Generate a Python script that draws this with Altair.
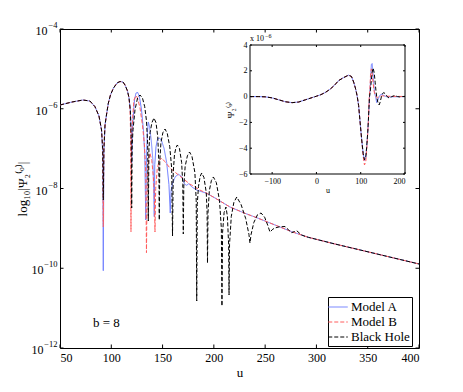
import altair as alt
import pandas as pd

SERIES = ["Model A", "Model B", "Black Hole"]
COLORS = ["#6d7dff", "#ff5c5c", "#000000"]
DASHES = [[1, 0], [4, 2], [4, 2]]

# ---- main panel: log10 |Psi| versus u ----
A_U = [50.0, 61.7, 72.4, 79.2, 84.1, 88.0, 90.5, 91.6, 92.2, 92.8,
       93.9, 95.3, 97.1, 99.2, 102.0, 105.6, 108.5, 111.4, 113.4, 115.8,
       117.3, 118.6, 119.4, 119.9, 120.5, 121.2, 122.6, 124.1, 125.8, 127.5,
       129.5, 131.4, 132.7, 133.6, 134.4, 135.2, 136.1, 137.3, 139.0, 140.6,
       141.9, 142.4, 143.6, 145.2, 147.0, 149.0, 151.5, 154.0, 156.2, 157.5,
       158.3, 160.0, 162.5, 165.5, 168.5, 171.5, 173.5, 175.5, 178.5, 183.3,
       193.0, 201.1, 215.7, 230.3, 243.3, 259.6, 275.9, 292.1, 318.1, 352.2, 375.0, 400.0]
A_LOG = [-5.906, -5.831, -5.781, -5.806, -5.949, -6.182, -6.533, -7.1, -10.061, -7.1,
         -6.408, -6.157, -5.863, -5.655, -5.487, -5.354, -5.317, -5.329, -5.404, -5.555,
         -5.730, -6.05, -6.6, -7.361, -6.6, -6.28, -5.78, -5.605, -5.592, -5.705,
         -6.03, -6.55, -7.2, -8.79, -7.1, -6.6, -6.332, -6.45, -6.8, -7.3,
         -8.707, -7.4, -6.95, -6.75, -6.734, -6.8, -7.0, -7.35, -7.9, -8.614,
         -8.05, -7.85, -7.7, -7.644, -7.70, -7.89, -7.92, -7.88, -7.96, -8.04,
         -8.12, -8.238, -8.464, -8.622, -8.747, -8.915, -9.083, -9.224, -9.392, -9.60, -9.74, -9.893]

B_U = [50.0, 61.7, 72.4, 79.2, 84.1, 88.0, 90.5, 91.6, 92.2, 92.8,
       93.9, 95.3, 97.1, 99.2, 102.0, 105.6, 108.5, 111.4, 113.4, 115.8,
       117.3, 118.3, 118.9, 119.2, 119.6, 120.7, 122.1, 124.1, 125.6, 128.0,
       130.4, 132.3, 133.6, 134.3, 135.0, 136.0, 137.7, 139.5, 141.0, 142.0,
       142.6, 143.3, 144.8, 146.8, 149.1, 152.0, 157.2, 166.9, 176.7, 186.5,
       193.0, 201.1, 215.7, 230.3, 243.3, 259.6, 275.9, 292.1, 318.1, 352.2, 375.0, 400.0]
B_LOG = [-5.906, -5.831, -5.781, -5.806, -5.949, -6.182, -6.533, -7.0, -8.958, -7.0,
         -6.408, -6.157, -5.863, -5.655, -5.487, -5.354, -5.317, -5.329, -5.404, -5.555,
         -5.730, -6.05, -6.7, -9.083, -6.9, -6.28, -5.78, -5.668, -5.73, -5.98,
         -6.41, -6.9, -7.6, -9.61, -7.8, -7.35, -7.11, -7.3, -7.7, -8.2,
         -9.091, -8.0, -7.5, -7.3, -7.235, -7.32, -7.486, -7.69, -7.89, -8.04,
         -8.12, -8.238, -8.464, -8.622, -8.747, -8.915, -9.083, -9.224, -9.392, -9.60, -9.74, -9.893]

BH_U = [50.0, 61.7, 72.4, 79.2, 84.1, 88.0, 90.5, 91.6, 92.2, 92.8,
        93.9, 95.3, 97.1, 99.2, 102.0, 105.6, 108.5, 111.4, 113.4, 115.8,
        117.3, 118.6, 119.4, 119.9, 120.4, 121.2, 123.1, 125.6, 128.0, 130.4,
        132.6, 134.3, 135.5, 136.1, 136.7, 137.8, 139.6, 141.6, 143.6, 145.3,
        146.3, 146.8, 147.3, 148.4, 150.3, 152.4, 154.6, 157.0, 158.9, 159.7,
        160.4, 161.6, 163.0, 164.4, 166.5, 168.6, 169.7, 170.2, 170.7, 172.0,
        174.2, 176.3, 178.7, 181.5, 182.8, 183.3, 183.8, 185.0, 186.6, 188.1,
        190.3, 192.6, 193.4, 193.8, 194.3, 195.6, 197.6, 199.5, 202.4, 205.5,
        207.3, 207.9, 208.5, 210.0, 211.8, 213.2, 214.4, 214.8, 215.3, 217.0,
        219.5, 222.3, 226.5, 231.0, 234.2, 235.2, 236.3, 239.0, 242.5, 246.0,
        249.5, 252.5, 254.7, 257.5, 259.6, 264.0, 269.4, 272.5, 275.9, 278.5,
        280.8, 283.0, 285.6, 289.0, 292.1, 318.1, 352.2, 375.0, 400.0]
BH_LOG = [-5.906, -5.831, -5.781, -5.806, -5.949, -6.182, -6.533, -7.0, -8.288, -7.0,
          -6.408, -6.157, -5.863, -5.655, -5.487, -5.354, -5.317, -5.329, -5.404, -5.555,
          -5.730, -6.05, -6.7, -8.489, -6.9, -6.53, -6.03, -5.73, -5.655, -5.73,
          -5.95, -6.3, -6.9, -8.815, -7.0, -6.6, -6.35, -6.232, -6.35, -6.7,
          -7.3, -8.79, -7.3, -6.85, -6.6, -6.508, -6.62, -6.95, -7.5, -9.191,
          -7.6, -7.15, -6.98, -6.909, -7.0, -7.35, -7.9, -9.141, -7.95, -7.45,
          -7.18, -7.085, -7.2, -7.6, -8.3, -10.821, -8.4, -7.95, -7.7, -7.611,
          -7.72, -8.1, -8.6, -9.868, -8.6, -8.05, -7.8, -7.711, -7.85, -8.3,
          -9.0, -10.947, -9.1, -8.6, -8.464, -8.7, -9.4, -10.671, -9.4, -8.7,
          -8.35, -8.213, -8.4, -8.75, -9.15, -9.367, -9.15, -8.85, -8.66, -8.614,
          -8.72, -8.92, -9.091, -9.02, -8.99, -8.96, -8.953, -9.03, -9.108, -9.08,
          -9.058, -9.11, -9.166, -9.20, -9.224, -9.392, -9.60, -9.74, -9.893]

# ---- inset: Psi (units of 1e-6) versus u ----
IA_U = [-150, -130, -115, -100, -85, -70, -55, -40, -25, -10,
        0, 10, 20, 30, 40, 50, 61.7, 72.4, 79.2, 84.1,
        88.0, 90.5, 92.2, 95.3, 99.2, 102.0, 105.6, 108.5, 111.4, 113.4,
        115.8, 117.3, 118.6, 119.9, 121.2, 122.6, 124.1, 125.8, 127.5, 129.5,
        131.4, 133.6, 136.1, 138.5, 141.9, 144.5, 147.0, 151.0, 157.5, 166.0, 180.0, 200.0]
IA_V = [0, 0, -0.02, -0.1, -0.25, -0.4, -0.47, -0.42, -0.25, -0.08,
        0.03, 0.15, 0.32, 0.55, 0.85, 1.24, 1.48, 1.66, 1.56, 1.12,
        0.66, 0.29, 0, -0.7, -2.21, -3.26, -4.43, -4.95, -4.69, -3.94,
        -2.79, -1.86, -0.9, 0, 0.52, 1.66, 2.48, 2.56, 1.97, 0.93,
        0.28, 0, -0.47, -0.3, 0, 0.14, 0.18, 0.1, 0, -0.02, -0.01, 0]

IB_U = [-150, -130, -115, -100, -85, -70, -55, -40, -25, -10,
        0, 10, 20, 30, 40, 50, 61.7, 72.4, 79.2, 84.1,
        88.0, 90.5, 92.2, 95.3, 99.2, 102.0, 105.6, 108.5, 111.4, 113.4,
        115.8, 117.3, 118.3, 119.2, 120.7, 122.1, 124.1, 125.6, 128.0, 130.4,
        132.3, 134.3, 137.7, 142.6, 149.1, 160.0, 180.0, 200.0]
IB_V = [0, 0, -0.02, -0.1, -0.25, -0.4, -0.47, -0.42, -0.25, -0.08,
        0.03, 0.15, 0.32, 0.55, 0.85, 1.24, 1.48, 1.66, 1.56, 1.12,
        0.66, 0.29, 0, -0.7, -2.21, -3.3, -4.65, -5.3, -5.05, -4.2,
        -2.9, -1.9, -0.9, 0, 0.52, 1.66, 2.15, 1.86, 1.05, 0.39,
        0.13, 0, -0.08, 0, 0.06, 0.03, 0.015, 0.01]

IBH_U = [-150, -130, -115, -100, -85, -70, -55, -40, -25, -10,
         0, 10, 20, 30, 40, 50, 61.7, 72.4, 79.2, 84.1,
         88.0, 90.5, 92.2, 95.3, 99.2, 102.0, 105.6, 108.5, 111.4, 113.4,
         115.8, 117.3, 118.6, 119.9, 121.2, 123.1, 125.6, 128.0, 130.4, 132.6,
         134.3, 136.1, 138.5, 141.6, 144.0, 146.8, 149.5, 152.4, 156.0, 159.7,
         164.4, 170.2, 176.3, 183.3, 188.1, 193.8, 200.0]
IBH_V = [0, 0, -0.02, -0.1, -0.25, -0.4, -0.47, -0.42, -0.25, -0.08,
         0.03, 0.15, 0.32, 0.55, 0.85, 1.24, 1.48, 1.66, 1.56, 1.12,
         0.66, 0.29, 0, -0.7, -2.21, -3.26, -4.43, -4.9, -4.69, -3.94,
         -2.79, -1.86, -0.9, 0, 0.3, 0.93, 1.86, 2.21, 1.86, 1.12,
         0.5, 0, -0.42, -0.65, -0.42, 0, 0.25, 0.31, 0.2, 0,
         -0.12, 0, 0.08, 0, -0.025, 0, 0.02]

X_DOMAIN = [50, 400]
Y_DOMAIN = [-12, -4]
X_TICKS = [50, 100, 150, 200, 250, 300, 350, 400]
Y_TICKS = [-12, -10, -8, -6, -4]
IN_X_DOMAIN = [-150, 200]
IN_Y_DOMAIN = [-6, 4]
IN_X_TICKS = [-100, 0, 100, 200]
IN_Y_TICKS = [-6, -4, -2, 0, 2, 4]
NOTE_U = [95.3]
NOTE_LOG = [-11.37]
NOTE_TEXT = ["b = 8"]
IN_SCALE_BASE = ["x 10"]
IN_SCALE_EXP = ["\u22126"]

FONT = "Liberation Serif"
W, H = 359, 319
IN_L, IN_R, IN_T, IN_B = 190, 345, 16, 145


def xm():
    return alt.X("u:Q", scale=alt.Scale(domain=X_DOMAIN, nice=False, zero=False),
                 axis=alt.Axis(values=X_TICKS, title="u", labelFont=FONT, labelFontSize=12,
                               labelColor="black", ticks=False, domain=False, grid=False,
                               labelPadding=4, titleFont=FONT, titleFontSize=13,
                               titleFontWeight="normal", titleColor="black",
                               titleX=179.5, titleY=24, titleBaseline="middle"))


def ym():
    return alt.Y("logv:Q", scale=alt.Scale(domain=Y_DOMAIN, nice=False, zero=False),
                 axis=alt.Axis(values=Y_TICKS, labels=False,
                               title="log\u2081\u2080|\u03a8\u2082\u207d\u1d52\u207e|",
                               ticks=False, domain=False, grid=False,
                               titleFont=FONT, titleFontSize=13, titleFontWeight="normal",
                               titleColor="black", titleAngle=270, titleX=-38, titleY=159.5,
                               titleAlign="center", titleBaseline="middle"))


def xi():
    return alt.X("u:Q", scale=alt.Scale(domain=IN_X_DOMAIN, range=[IN_L, IN_R], nice=False, zero=False),
                 axis=alt.Axis(values=IN_X_TICKS, orient="bottom", offset=-(H - IN_B), title="u",
                               labelFont=FONT, labelFontSize=8, labelColor="black", ticks=False,
                               domain=False, grid=False, labelPadding=3, titleFont=FONT,
                               titleFontSize=8, titleFontWeight="normal", titleColor="black",
                               titlePadding=1))


def yi():
    return alt.Y("v:Q", scale=alt.Scale(domain=IN_Y_DOMAIN, range=[IN_B, IN_T], nice=False, zero=False),
                 axis=alt.Axis(values=IN_Y_TICKS, orient="left", offset=-IN_L,
                               title="\u03a8\u2082\u207d\u1d52\u207e",
                               labelFont=FONT, labelFontSize=8, labelColor="black", ticks=False,
                               domain=False, grid=False, labelPadding=3, titleFont=FONT,
                               titleFontSize=9, titleFontWeight="normal", titleColor="black",
                               titlePadding=3))


legend = alt.Legend(orient="none", legendX=268, legendY=268, strokeColor="black",
                    fillColor="white", padding=2, labelFont=FONT, labelFontSize=13,
                    labelColor="black", symbolType="M-1.3,0L1.3,0", symbolSize=225,
                    symbolStrokeWidth=1, rowPadding=0, labelOffset=5)
color = alt.Color("series:N", title=None, scale=alt.Scale(domain=SERIES, range=COLORS), legend=legend)
dash = alt.StrokeDash("series:N", title=None, scale=alt.Scale(domain=SERIES, range=DASHES), legend=legend)


def main_line(us, ls, name):
    df = pd.DataFrame({"u": us, "logv": ls, "series": name})
    return alt.Chart(df).mark_line(strokeWidth=1).encode(x=xm(), y=ym(), color=color, strokeDash=dash)


lines = [main_line(A_U, A_LOG, SERIES[0]), main_line(B_U, B_LOG, SERIES[1]),
         main_line(BH_U, BH_LOG, SERIES[2])]

xt = pd.DataFrame({"u": X_TICKS})
yt = pd.DataFrame({"logv": Y_TICKS})
tick_style = dict(color="black", strokeWidth=1)
main_ticks = [
    alt.Chart(xt).mark_rule(**tick_style).encode(x=xm(), y=alt.value(H), y2=alt.value(H - 3.5)),
    alt.Chart(xt).mark_rule(**tick_style).encode(x=xm(), y=alt.value(0), y2=alt.value(3.5)),
    alt.Chart(yt).mark_rule(**tick_style).encode(y=ym(), x=alt.value(0), x2=alt.value(3.5)),
    alt.Chart(yt).mark_rule(**tick_style).encode(y=ym(), x=alt.value(W), x2=alt.value(W - 3.5)),
]

# y tick labels as "10" with a raised exponent
lab_base = alt.Chart(yt).transform_calculate(b="'10'")
lab_exp = alt.Chart(yt).transform_calculate(e="'\u2212' + abs(datum.logv)")
y_labels = [
    lab_base.transform_filter("datum.logv > -10").mark_text(
        font=FONT, fontSize=12, color="black", align="right", baseline="middle", dy=2).encode(
        y=ym(), x=alt.value(-12.5), text="b:N"),
    lab_base.transform_filter("datum.logv <= -10").mark_text(
        font=FONT, fontSize=12, color="black", align="right", baseline="middle", dy=2).encode(
        y=ym(), x=alt.value(-16.5), text="b:N"),
    lab_exp.mark_text(font=FONT, fontSize=8.5, color="black", align="right",
                      baseline="middle", dy=-4).encode(y=ym(), x=alt.value(-2.5), text="e:N"),
]

note = alt.Chart(pd.DataFrame({"u": NOTE_U, "logv": NOTE_LOG, "t": NOTE_TEXT})).mark_text(
    font=FONT, fontSize=13, color="black", align="center", baseline="middle").encode(
    x=xm(), y=ym(), text="t:N")

main = alt.layer(*lines, *main_ticks, *y_labels, note)

# inset
bg = alt.Chart(pd.DataFrame({"u": [IN_X_DOMAIN[0]], "u2": [IN_X_DOMAIN[1]],
                             "v": [IN_Y_DOMAIN[0]], "v2": [IN_Y_DOMAIN[1]]})).mark_rect(
    fill="white", stroke="black", strokeWidth=1).encode(x=xi(), x2="u2:Q", y=yi(), y2="v2:Q")


def inset_line(us, vs, i):
    df = pd.DataFrame({"u": us, "v": vs})
    return alt.Chart(df).mark_line(strokeWidth=1, color=COLORS[i], strokeDash=DASHES[i]).encode(x=xi(), y=yi())


ixt = pd.DataFrame({"u": IN_X_TICKS})
iyt = pd.DataFrame({"v": IN_Y_TICKS})
inset_ticks = [
    alt.Chart(ixt).mark_rule(**tick_style).encode(x=xi(), y=alt.value(IN_B), y2=alt.value(IN_B - 2)),
    alt.Chart(ixt).mark_rule(**tick_style).encode(x=xi(), y=alt.value(IN_T), y2=alt.value(IN_T + 2)),
    alt.Chart(iyt).mark_rule(**tick_style).encode(y=yi(), x=alt.value(IN_L), x2=alt.value(IN_L + 2)),
    alt.Chart(iyt).mark_rule(**tick_style).encode(y=yi(), x=alt.value(IN_R), x2=alt.value(IN_R - 2)),
]
scale_base = alt.Chart(pd.DataFrame({"t": IN_SCALE_BASE})).mark_text(
    font=FONT, fontSize=8, color="black", align="left", baseline="bottom").encode(
    x=alt.value(IN_L), y=alt.value(IN_T - 2), text="t:N")
scale_exp = alt.Chart(pd.DataFrame({"t": IN_SCALE_EXP})).mark_text(
    font=FONT, fontSize=6, color="black", align="left", baseline="bottom").encode(
    x=alt.value(IN_L + 15), y=alt.value(IN_T - 6), text="t:N")

inset = alt.layer(bg, inset_line(IA_U, IA_V, 0), inset_line(IB_U, IB_V, 1),
                  inset_line(IBH_U, IBH_V, 2), *inset_ticks, scale_base, scale_exp)

chart = alt.layer(main, inset).resolve_scale(x="independent", y="independent").properties(
    width=W, height=H,
    padding={"left": 52, "top": 21, "right": 30, "bottom": 30},
    autosize=alt.AutoSizeParams(type="none"),
    background="white",
).configure_view(stroke="black", strokeWidth=1)

chart.save("out.html", embed_options={"renderer": "svg", "actions": False})
